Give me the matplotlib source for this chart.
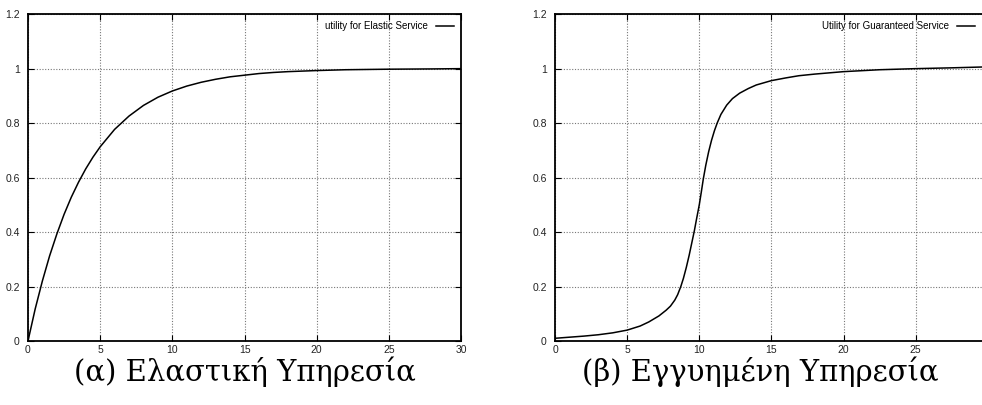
import matplotlib.pyplot as plt

# values
x_elastic = [0, 0.5, 1, 1.5, 2, 2.5, 3, 3.5, 4, 4.5, 5, 6, 7, 8, 9, 10, 11, 12, 13, 14,
             15, 16, 17, 18, 20, 22, 25, 28, 30]
u_elastic = [0, 0.118, 0.221, 0.313, 0.393, 0.465, 0.528, 0.583, 0.632, 0.675, 0.713,
             0.777, 0.826, 0.865, 0.895, 0.918, 0.936, 0.950, 0.961, 0.970, 0.976,
             0.982, 0.986, 0.989, 0.993, 0.996, 0.998, 0.999, 1.0]

x_guar = [0, 1, 2, 3, 4, 5, 5.9, 6.5, 7.2, 7.7, 8.0, 8.3, 8.5, 8.72, 8.9, 9.1, 9.3,
          9.5, 9.66, 9.8, 10.0, 10.15, 10.28, 10.45, 10.65, 10.85, 11.05, 11.24,
          11.5, 11.9, 12.3, 12.8, 13.4, 13.95, 15, 16, 16.9, 18, 20, 22.5, 25, 27.5,
          29.6]
u_guar = [0.010, 0.014, 0.018, 0.023, 0.030, 0.040, 0.055, 0.070, 0.092, 0.113, 0.128,
          0.150, 0.170, 0.200, 0.230, 0.270, 0.315, 0.365, 0.405, 0.445, 0.500, 0.550,
          0.595, 0.645, 0.695, 0.737, 0.772, 0.800, 0.832, 0.866, 0.890, 0.910,
          0.927, 0.940, 0.956, 0.966, 0.974, 0.980, 0.989, 0.996, 1.000, 1.003, 1.006]

x_ticks = [0, 5, 10, 15, 20, 25, 30]
y_ticks = [0, 0.2, 0.4, 0.6, 0.8, 1, 1.2]
y_labels = ['0', '0.2', '0.4', '0.6', '0.8', '1', '1.2']

fig = plt.figure(figsize=(9.82, 4.05), dpi=100)
ax1 = fig.add_axes([0.0285, 0.158, 0.441, 0.807])
ax2 = fig.add_axes([0.5652, 0.158, 0.4348, 0.807])


def style(ax, xmax, ticks, right=True):
    ax.set_xlim(0, xmax)
    ax.set_ylim(0, 1.2)
    ax.set_xticks(ticks)
    ax.set_xticklabels([str(t) for t in ticks])
    ax.set_yticks(y_ticks)
    ax.set_yticklabels(y_labels)
    ax.grid(True, color='#777777', linestyle=(0, (1, 1.5)), linewidth=0.8)
    ax.tick_params(direction='in', length=4, labelsize=7.5, colors='black',
                   top=True, right=right, pad=3)
    ax.tick_params(axis='y', pad=6)
    for s in ax.spines.values():
        s.set_linewidth(1.3)
    for lab in ax.get_xticklabels() + ax.get_yticklabels():
        lab.set_fontfamily('Liberation Sans')
        lab.set_color('#222222')


ax1.plot(x_elastic, u_elastic, color='black', lw=1.1, label='utility for Elastic Service')
style(ax1, 30, x_ticks)
ax1.legend(loc='upper right', frameon=False, markerfirst=False, handlelength=1.9,
           borderaxespad=0.3, prop={'family': 'Liberation Sans', 'size': 7})

ax2.plot(x_guar, u_guar, color='black', lw=1.1, label='Utility for Guaranteed Service')
style(ax2, 29.6, x_ticks[:-1], right=False)
ax2.spines['right'].set_visible(False)
ax2.legend(loc='upper right', frameon=False, markerfirst=False, handlelength=1.9,
           borderaxespad=0.3, prop={'family': 'Liberation Sans', 'size': 7})

fig.text(0.249, 0.082, '(α) Ελαστική Υπηρεσία', ha='center', va='center',
         fontsize=21, family='DejaVu Serif')
fig.text(0.774, 0.082, '(β) Εγγυημένη Υπηρεσία', ha='center', va='center',
         fontsize=21, family='DejaVu Serif')

fig.savefig('out.png', dpi=100)
